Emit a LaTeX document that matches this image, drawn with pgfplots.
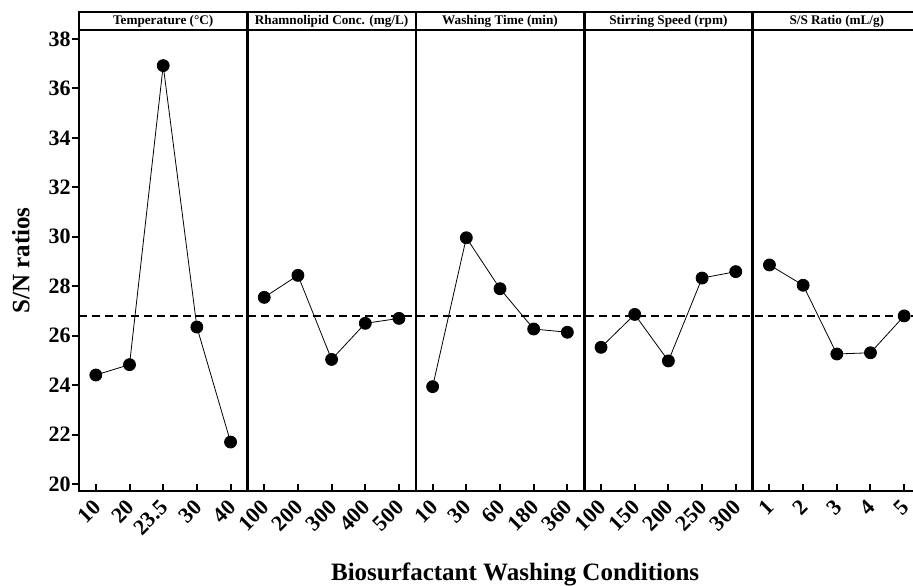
\documentclass[border=0pt]{standalone}
\usepackage{fontspec}
\setmainfont{Liberation Serif}
\usepackage{pgfplots}
\pgfplotsset{compat=1.18}
\begin{document}
\begin{tikzpicture}
\begin{axis}[
    scale only axis,
    width=421pt, height=230.5pt,
    xmin=0, xmax=25, ymin=19.72, ymax=38.36,
    xtick={0.5,1.5,...,24.5},
    xticklabels={10,20,23.5,30,40,100,200,300,400,500,10,30,60,180,360,100,150,200,250,300,1,2,3,4,5},
    ytick={20,22,...,38},
    tick pos=left,
    xtick align=inside,
    ytick align=outside,
    major tick length=3.5pt,
    tick style={line width=1pt, black},
    axis line style={line width=1.3pt},
    /pgf/number format/assume math mode=true,
    x tick label style={rotate=45, anchor=east, font=\bfseries\fontsize{11}{11}\selectfont, inner sep=1pt, yshift=-5pt, xshift=-3pt},
    y tick label style={font=\bfseries\fontsize{11}{11}\selectfont, inner sep=0.5pt},
    ylabel={\bfseries S/N ratios},
    every axis y label/.style={at={(rel axis cs:-0.069,0.5)}, rotate=90, anchor=center, font=\fontsize{12.5}{12.5}\selectfont},
    xlabel={\bfseries Biosurfactant Washing Conditions},
    every axis x label/.style={at={(rel axis cs:0.518,-0.18)}, anchor=center, font=\fontsize{12.5}{12.5}\selectfont},
    clip=false,
]
% mean line
\addplot[black, line width=1.3pt, dash pattern=on 4pt off 2.5pt] coordinates {(0,26.8)(25,26.8)};
% Temperature
\addplot[black, line width=0.4pt, mark=*, mark size=3pt] coordinates {(0.5,24.41)(1.5,24.83)(2.5,36.92)(3.5,26.35)(4.5,21.70)};
% Rhamnolipid conc.
\addplot[black, line width=0.4pt, mark=*, mark size=3pt] coordinates {(5.5,27.55)(6.5,28.44)(7.5,25.04)(8.5,26.50)(9.5,26.70)};
% Washing time
\addplot[black, line width=0.4pt, mark=*, mark size=3pt] coordinates {(10.5,23.94)(11.5,29.96)(12.5,27.90)(13.5,26.27)(14.5,26.14)};
% Stirring speed
\addplot[black, line width=0.4pt, mark=*, mark size=3pt] coordinates {(15.5,25.53)(16.5,26.86)(17.5,24.98)(18.5,28.33)(19.5,28.59)};
% S/S ratio
\addplot[black, line width=0.4pt, mark=*, mark size=3pt] coordinates {(20.5,28.86)(21.5,28.04)(22.5,25.26)(23.5,25.31)(24.5,26.80)};

% panel separators and header strip
\foreach \x in {5,10,15,20} {
    \edef\tmp{\noexpand\draw[line width=1.3pt] (axis cs:\x,19.72) -- ([yshift=9pt]axis cs:\x,38.36);}
    \tmp
}
\draw[line width=1.3pt] (rel axis cs:0,1) rectangle ([yshift=9pt]rel axis cs:1,1);
\path[font=\bfseries\fontsize{6.6}{6.6}\selectfont]
    ([yshift=4.5pt]axis cs:2.5,38.36) node {Temperature (°C)}
    ([yshift=4.5pt]axis cs:7.5,38.36) node {Rhamnolipid Conc. (mg/L)}
    ([yshift=4.5pt]axis cs:12.5,38.36) node {Washing Time (min)}
    ([yshift=4.5pt]axis cs:17.5,38.36) node {Stirring Speed (rpm)}
    ([yshift=4.5pt]axis cs:22.5,38.36) node {S/S Ratio (mL/g)};
\coordinate (ll) at (rel axis cs:0,0);
\end{axis}
% frame of the picture as in the reference (right border falls just outside)
\pgfresetboundingbox
\path[use as bounding box] ([xshift=-39.5pt,yshift=-47pt]ll) rectangle ([xshift=417pt,yshift=245.5pt]ll);
\end{tikzpicture}
\end{document}
